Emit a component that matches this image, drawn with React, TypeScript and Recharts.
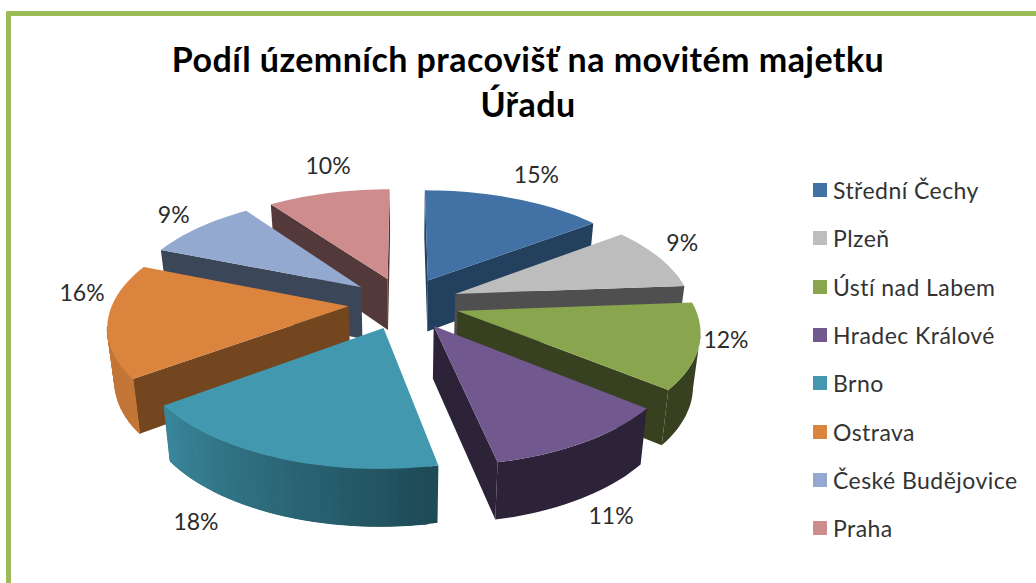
// App.tsx
import { PieChart, Pie, Legend } from 'recharts';

const WIDTH = 1036;
const HEIGHT = 583;

const NAMES = ['Střední Čechy', 'Plzeň', 'Ústí nad Labem', 'Hradec Králové', 'Brno', 'Ostrava', 'České Budějovice', 'Praha'];
const VALUES = [14.7, 9.1, 12.1, 10.85, 18.15, 16.2, 9.0, 9.9];

const COLORS = ['#4271A6', '#BDBDBD', '#89A54E', '#71588F', '#4198AF', '#DB843D', '#93A9CF', '#CE8D8C'];
const SIDE_COLORS = ['#24405F', '#4F4F4F', '#374120', '#2D2339', '#1E4B57', '#734620', '#3B4659', '#53393A'];

// back to front, so nearer slices cover the ones behind them
const DRAW_ORDER = [0, 7, 1, 6, 2, 5, 3, 4];

// excel puts the labels by hand-ish offsets around the pie
const LABEL_NUDGE = [[9, -13], [-9, -10], [-15, -14], [-3, 50], [-60, 37], [15, -31], [-1, -5], [8, -16]];

const FONT = 'Lato, "Open Sans", sans-serif';
const SQUASH = 0.468;
const PERSPECTIVE = 0.154;
const EXPLODE = 0.235;
const LABEL_RADIUS = 1.4;

const data = NAMES.map((name, i) => ({ name, value: VALUES[i] }));

type Pt = { x: number; y: number; v: number };

function project(cx: number, cy: number, R: number, u: number, v: number): Pt {
  const d = 1 - PERSPECTIVE * v;
  return { x: cx + (R * u) / d, y: cy + (R * SQUASH * v) / d, v };
}

// same point, dropped to the underside of the slice
function drop(p: Pt, cx: number): Pt {
  return { x: cx + (p.x - cx) * 0.975, y: p.y + 52 + 4.5 * p.v, v: p.v };
}

function mix(hex: string, hexB: string, t: number) {
  const ch = (h: string, i: number) => parseInt(h.slice(1 + i * 2, 3 + i * 2), 16);
  const out = [0, 1, 2].map(i => Math.round(ch(hex, i) + (ch(hexB, i) - ch(hex, i)) * t));
  return `rgb(${out.join(',')})`;
}

function poly(points: Pt[]) {
  return points.map(p => `${p.x.toFixed(1)},${p.y.toFixed(1)}`).join(' ');
}

function Slice(props: any) {
  const { cx, cy, outerRadius, startAngle, endAngle, index } = props;
  const t0 = 90 - startAngle;
  const t1 = 90 - endAngle;
  const mid = (((t0 + t1) / 2) * Math.PI) / 180;
  const ox = EXPLODE * Math.sin(mid);
  const oy = -EXPLODE * Math.cos(mid);

  const apex = project(cx, cy, outerRadius, ox, oy);
  const steps = Math.max(8, Math.round((t1 - t0) / 2));
  const arc: Pt[] = [];
  const arcT: number[] = [];
  for (let s = 0; s <= steps; s++) {
    const t = t0 + ((t1 - t0) * s) / steps;
    const a = (t * Math.PI) / 180;
    arc.push(project(cx, cy, outerRadius, ox + Math.sin(a), oy - Math.cos(a)));
    arcT.push(t);
  }

  const side = SIDE_COLORS[index];
  const flats: any[] = [];
  const radial = (a: Pt, b: Pt, key: string) => {
    if (b.x >= a.x) return; // faces away from the viewer
    flats.push(<polygon key={key} points={poly([a, b, drop(b, cx), drop(a, cx)])} fill={side} />);
  };
  radial(apex, arc[0], 'start');
  radial(arc[arc.length - 1], apex, 'end');

  // one base wall first so the strips below leave no seams
  const visible: number[] = [];
  for (let s = 0; s < steps; s++) if (arc[s + 1].x < arc[s].x) visible.push(s);
  const wallPts: Pt[] = [];
  visible.forEach(s => wallPts.push(arc[s]));
  if (visible.length) wallPts.push(arc[visible[visible.length - 1] + 1]);

  const strips = visible.map(s => {
    // the left of the pie catches the light
    const lit = Math.min(1, Math.max(0, ((arcT[s] + arcT[s + 1]) / 2 - 170) / 64));
    if (lit === 0) return null;
    const fill = mix(side, COLORS[index], lit * 0.78);
    return (
      <polygon
        key={s}
        points={poly([arc[s], arc[s + 1], drop(arc[s + 1], cx), drop(arc[s], cx)])}
        fill={fill}
        stroke={fill}
        strokeWidth={1}
      />
    );
  });

  return (
    <g>
      {flats}
      {wallPts.length > 1 && (
        <polygon points={poly([...wallPts, ...wallPts.slice().reverse().map(p => drop(p, cx))])} fill={side} />
      )}
      {strips}
      <polygon points={poly([apex, ...arc])} fill={COLORS[index]} />
    </g>
  );
}

function PctLabel(props: any, only: number) {
  const { cx, cy, outerRadius, midAngle, percent, index } = props;
  if (index !== only) return null;
  const a = ((90 - midAngle) * Math.PI) / 180;
  const p = project(cx, cy, outerRadius, LABEL_RADIUS * Math.sin(a), -LABEL_RADIUS * Math.cos(a));
  return (
    <text
      x={p.x + LABEL_NUDGE[index][0]}
      y={p.y + LABEL_NUDGE[index][1]}
      textAnchor="middle"
      dominantBaseline="central"
      fontFamily={FONT}
      fontSize={23}
      fill="#2b2b2b"
    >
      {Math.round(percent * 100)}%
    </text>
  );
}

function LegendList() {
  return (
    <div>
      {NAMES.map((name, i) => (
        <div
          key={name}
          style={{
            display: 'flex',
            alignItems: 'center',
            height: 48.3,
            fontFamily: FONT,
            fontSize: 23,
            letterSpacing: 0.45,
            color: '#333',
            whiteSpace: 'nowrap',
          }}
        >
          <span style={{ width: 14, height: 14, background: COLORS[i], marginRight: 6, flex: 'none' }} />
          {name}
        </div>
      ))}
    </div>
  );
}

export default function App() {
  return (
    <div style={{ position: 'fixed', left: 0, top: 0, width: WIDTH, height: HEIGHT, background: '#fff', overflow: 'hidden' }}>
      <div
        style={{
          position: 'absolute',
          left: 6,
          top: 11,
          width: WIDTH,
          height: HEIGHT,
          borderLeft: '5px solid #9BBB59',
          borderTop: '5px solid #9BBB59',
          borderTopLeftRadius: 2,
        }}
      />
      <div
        style={{
          position: 'absolute',
          left: 128,
          top: 36,
          width: 800,
          textAlign: 'center',
          fontFamily: FONT,
          fontWeight: 700,
          fontSize: 34,
          letterSpacing: 0.45,
          lineHeight: '45px',
          color: '#000',
        }}
      >
        Podíl územních pracovišť na movitém majetku
        <br />
        Úřadu
      </div>
      <div style={{ position: 'absolute', left: 0, top: 0 }}>
        <PieChart width={WIDTH} height={HEIGHT} margin={{ top: 0, right: 0, bottom: 0, left: 0 }}>
          {DRAW_ORDER.map(i => (
            <Pie
              key={i}
              data={data}
              dataKey="value"
              nameKey="name"
              cx={404}
              cy={303}
              outerRadius={236}
              startAngle={90}
              endAngle={-270}
              isAnimationActive={false}
              legendType="none"
              labelLine={false}
              label={(p: any) => PctLabel(p, i)}
              shape={(p: any) => (p.index === i ? <Slice {...p} /> : <g />)}
            />
          ))}
          <Legend content={<LegendList />} wrapperStyle={{ position: 'absolute', left: 813, top: 166, width: 223, bottom: 'auto' }} />
        </PieChart>
      </div>
    </div>
  );
}
